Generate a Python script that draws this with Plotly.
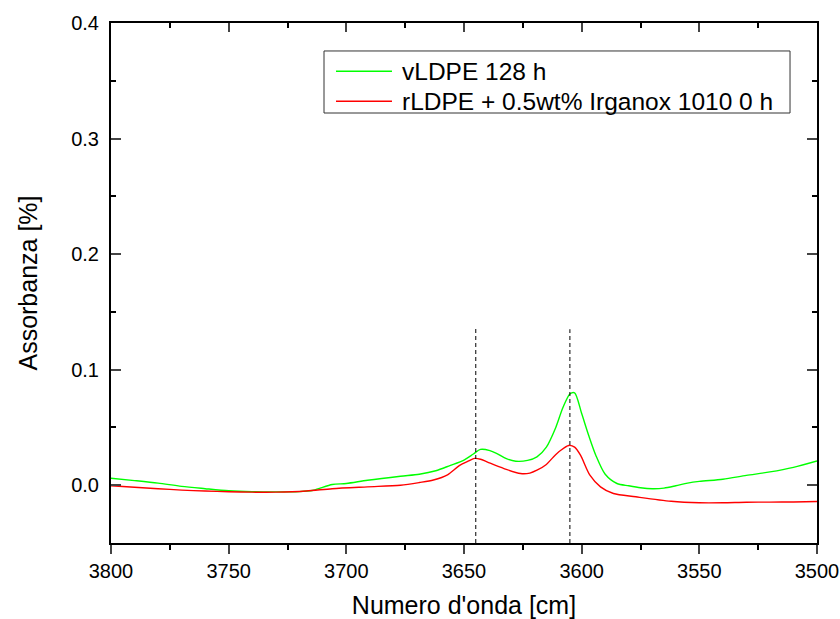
import plotly.graph_objects as go

# ---- data ----
wn_green = [3800, 3790, 3780, 3770, 3760, 3750, 3740, 3730, 3720, 3714, 3706, 3700, 3691, 3677,
            3669, 3662, 3656, 3650, 3646, 3643, 3639, 3636, 3632, 3628, 3623, 3619, 3615, 3611,
            3608, 3605, 3603, 3600, 3597, 3594, 3590, 3585, 3580, 3575, 3570, 3565, 3560, 3555,
            3550, 3540, 3530, 3520, 3510, 3500]
ab_green = [0.006, 0.004, 0.0018, -0.001, -0.003, -0.0048, -0.0056, -0.0058, -0.0055, -0.0043,
            0.0006, 0.0015, 0.0043, 0.0078, 0.0095, 0.0125, 0.017, 0.0218, 0.027, 0.031, 0.030,
            0.0274, 0.023, 0.0208, 0.0215, 0.0245, 0.033, 0.05, 0.067, 0.079, 0.080, 0.062,
            0.043, 0.026, 0.0095, 0.0015, -0.0005, -0.0022, -0.003, -0.0025, -0.0005, 0.0018,
            0.0033, 0.0052, 0.0085, 0.0115, 0.0155, 0.021]

wn_red = [3800, 3790, 3780, 3770, 3760, 3750, 3740, 3730, 3717, 3706, 3691, 3677, 3669, 3663,
          3657, 3652, 3648, 3645.5, 3643, 3640, 3633, 3626, 3622, 3619, 3615, 3612, 3609, 3605.5,
          3603, 3600.5, 3596.5, 3592, 3586.5, 3577, 3562, 3550, 3540, 3530, 3520, 3510, 3500]
ab_red = [-0.0005, -0.0018, -0.003, -0.0042, -0.005, -0.0056, -0.006, -0.006, -0.005, -0.003,
          -0.0014, 0.0, 0.0023, 0.0045, 0.009, 0.017, 0.021, 0.0232, 0.0225, 0.020, 0.0144,
          0.0101, 0.0105, 0.013, 0.018, 0.0245, 0.030, 0.0344, 0.033, 0.026, 0.0087, -0.0014,
          -0.0072, -0.010, -0.0139, -0.0152, -0.0152, -0.0147, -0.0146, -0.0145, -0.0141]

peak_positions = [3645, 3605]
marker_tops = [0.1375, 0.135]
y_bottom = -0.05

series_names = ["vLDPE 128 h", "rLDPE + 0.5wt% Irganox 1010 0 h"]
series_colors = ["#00ff00", "#ff0000"]
x_ticks = [3800, 3750, 3700, 3650, 3600, 3550, 3500]
y_ticks = [0.0, 0.1, 0.2, 0.3, 0.4]

FONT = "Liberation Sans, Arial, sans-serif"

fig = go.Figure()
for wn, ab, name, col in [(wn_green, ab_green, series_names[0], series_colors[0]),
                          (wn_red, ab_red, series_names[1], series_colors[1])]:
    fig.add_trace(go.Scatter(x=wn, y=ab, mode="lines", name=name, showlegend=False,
                             line=dict(color=col, width=1.4, shape="spline", smoothing=0.8)))
for p, t in zip(peak_positions, marker_tops):
    fig.add_trace(go.Scatter(x=[p, p], y=[y_bottom, t], mode="lines", showlegend=False,
                             line=dict(color="black", width=1, dash="4px,3px"), hoverinfo="skip"))
# dummy trace to activate top axis
fig.add_trace(go.Scatter(x=[3800], y=[0], xaxis="x2", mode="markers", showlegend=False,
                         marker=dict(opacity=0), hoverinfo="skip"))

# ---- legend box drawn in paper coordinates ----
box = dict(x0=0.3017, x1=0.9618, y0=0.8269, y1=0.9462)
entry_y = [0.9071, 0.8494]
line_x = (0.3187, 0.3980)
text_x = 0.4093
shapes = [dict(type="rect", xref="paper", yref="paper", **box,
               line=dict(color="#333333", width=1), fillcolor="white", layer="above")]
annotations = []
for yy, name, col in zip(entry_y, series_names, series_colors):
    shapes.append(dict(type="line", xref="paper", yref="paper", x0=line_x[0], x1=line_x[1],
                       y0=yy, y1=yy, line=dict(color=col, width=1.4), layer="above"))
    annotations.append(dict(xref="paper", yref="paper", x=text_x, y=yy, text=name,
                            showarrow=False, xanchor="left", yanchor="middle",
                            font=dict(size=24.5, family=FONT, color="black")))

fig.update_layout(
    width=840, height=619,
    margin=dict(l=111, r=23, t=23, b=76),
    paper_bgcolor="white", plot_bgcolor="white",
    font=dict(family=FONT, color="black", size=20),
    showlegend=False,
    shapes=shapes, annotations=annotations,
    xaxis=dict(range=[3800, 3500], tickvals=x_ticks, ticks="outside", ticklen=9, tickwidth=2,
               showline=True, linewidth=2, linecolor="black", mirror=True, showgrid=False,
               zeroline=False, tickfont=dict(size=20), automargin=False,
               minor=dict(dtick=25, tick0=3500, ticks="outside", ticklen=5, tickwidth=2,
                          tickcolor="black", showgrid=False),
               title=dict(text="Numero d'onda [cm]", font=dict(size=25), standoff=18)),
    xaxis2=dict(range=[3800, 3500], overlaying="x", side="top", matches="x",
                tickvals=x_ticks, ticks="inside", ticklen=9, tickwidth=2, showticklabels=False,
                showline=False, showgrid=False, zeroline=False, automargin=False,
                minor=dict(dtick=25, tick0=3500, ticks="inside", ticklen=5, tickwidth=2,
                           tickcolor="black", showgrid=False)),
    yaxis=dict(range=[-0.05, 0.4], tickvals=y_ticks, tickformat=".1f", ticks="inside",
               ticklen=10, tickwidth=2, showline=True, linewidth=2, linecolor="black",
               mirror="ticks", showgrid=False, zeroline=False, tickfont=dict(size=20),
               ticklabelstandoff=6, automargin=False,
               minor=dict(dtick=0.05, tick0=0, ticks="inside", ticklen=5, tickwidth=2,
                          tickcolor="black", showgrid=False),
               title=dict(text="Assorbanza [%]", font=dict(size=25), standoff=26)),
)

fig.write_html("out.html")
